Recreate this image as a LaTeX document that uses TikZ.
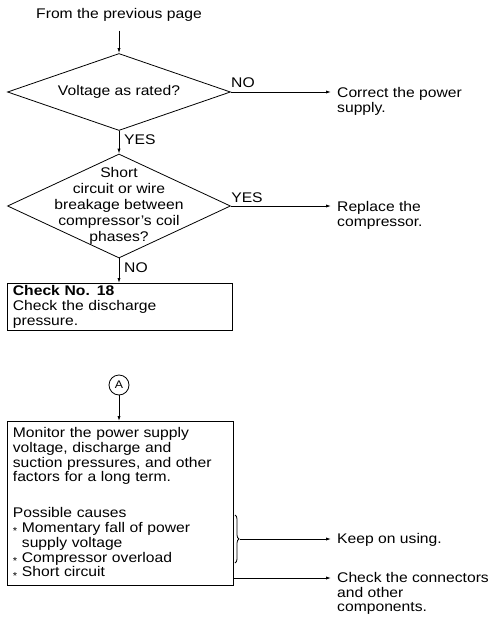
\documentclass[tikz,border=0pt]{standalone}
\usepackage{fontspec}
\setmainfont{Liberation Sans}[FakeStretch=1.12]
\usetikzlibrary{shapes.geometric,arrows.meta,decorations.pathreplacing}

% small mid-height bullet star for the list of causes
\newcommand{\causemark}{\raisebox{-2.2pt}{\fontsize{10}{10}\selectfont *}}

\begin{document}
\begin{tikzpicture}[x=1pt,y=-1pt,
  every node/.style={font=\fontsize{14}{14.8}\selectfont, inner sep=0pt},
  flow/.style={line width=0.8pt, -{Latex[length=5pt,width=3.2pt]}},
  decision/.style={draw, diamond, line width=0.8pt, inner sep=0pt},
  actbox/.style={draw, line width=0.8pt, anchor=north west, align=left, inner xsep=5.5pt},
  answer/.style={anchor=north west, align=left},
  brc/.style={line width=0.8pt, decorate, decoration={brace, amplitude=4pt}}
]
\useasboundingbox (0,0) rectangle (497,618);

% entry
\node (src) at (119,15) {From the previous page};

% first decision
\node[decision, minimum width=223pt, minimum height=77pt] (d1) at (119,92) {};
\node (d1t) at (d1) {Voltage as rated?};
\node (d1no) at (243,83) {NO};
\node[anchor=west] (d1yes) at (124,140) {YES};
\node[answer] (r1) at (337,87) {Correct the power\\supply.};

% second decision
\node[decision, minimum width=223pt, minimum height=104pt] (d2) at (119,206) {};
\node[align=center, font=\fontsize{14}{16}\selectfont] (d2t) at (119,205.5) {Short\\circuit or wire\\breakage between\\compressor's coil\\phases?};
\node (d2yes) at (247,198) {YES};
\node[anchor=west] (d2no) at (124,268) {NO};
\node[answer] (r2) at (337,201) {Replace the\\compressor.};

% check no. 18
\node[actbox, text width=214pt, inner ysep=2pt] (c18) at (7,283)
  {\textbf{Check No. 18}\\Check the discharge\\pressure.};

% connector A
\node[draw, circle, line width=0.8pt, minimum size=20pt, font=\fontsize{11}{12}\selectfont] (A) at (119,385) {A};

% monitoring box
\node[actbox, text width=215pt, inner ysep=6pt] (mon) at (7,421)
  {Monitor the power supply\\
   voltage, discharge and\\
   suction pressures, and other\\
   factors for a long term.\\[21pt]
   Possible causes\\
   \causemark\ Momentary fall of power\\
   \hphantom{\causemark\ }supply voltage\\
   \causemark\ Compressor overload\\
   \causemark\ Short circuit\rule[-2pt]{0pt}{1pt}};

\node[anchor=west] (keep) at (337,540) {Keep on using.};
\node[answer] (chk) at (337,572) {Check the connectors\\and other\\components.};

% brace over the first three causes
\coordinate (bt) at (235,515);
\coordinate (bb) at (235,563);
\coordinate (btip) at (240,539);
\coordinate (sc) at (233,578);
\draw[brc] (bt) -- (bb);

% connectors
\draw[flow, shorten <=9pt] (src.south) -- (d1.north);
\draw[flow, shorten >=6pt] (d1.east) -- (d1.east -| r1.west);
\draw[flow] (d1.south) -- (d2.north);
\draw[flow, shorten >=6pt] (d2.east) -- (d2.east -| r2.west);
\draw[flow] (d2.south) -- (c18.north -| d2.south);
\draw[flow] (A.south) -- (mon.north -| A.south);
\draw[flow, shorten >=6pt] (btip) -- (btip -| keep.west);
\draw[flow, shorten >=6pt] (sc) -- (sc -| chk.west);
\end{tikzpicture}
\end{document}
